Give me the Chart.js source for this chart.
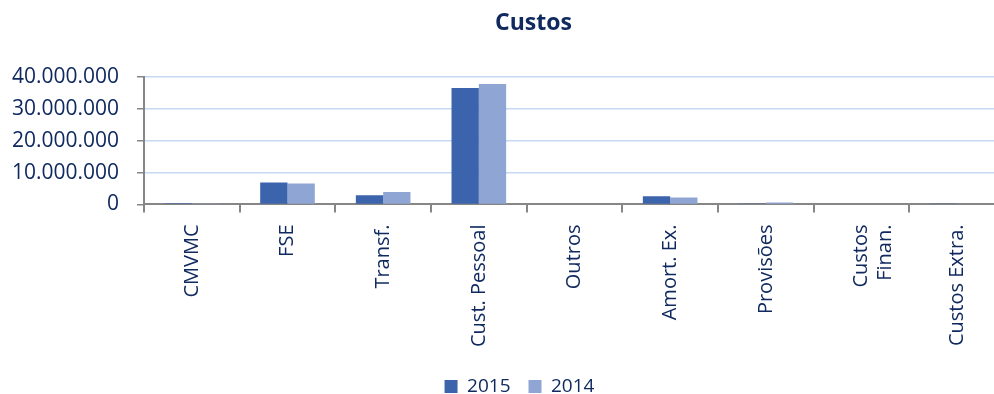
<!DOCTYPE html>
<html>
<head>
<meta charset="utf-8">
<script src="https://cdn.jsdelivr.net/npm/chart.js@4/dist/chart.umd.min.js"></script>
<style>
	html, body { margin: 0; padding: 0; background: #fff; overflow: hidden; }
	#wrap { position: relative; width: 1066px; height: 406px; }
</style>
</head>
<body>
<div id="wrap"><canvas id="custos"></canvas></div>
<script>
	// data
	var categories = ['CMVMC', 'FSE', 'Transf.', 'Cust. Pessoal', 'Outros', 'Amort. Ex.', 'Provisões', ['Custos', 'Finan.'], 'Custos Extra.'];
	var values2015 = [400000, 6900000, 2900000, 36400000, 0, 2600000, 300000, 0, 300000];
	var values2014 = [300000, 6600000, 3900000, 37700000, 0, 2200000, 600000, 0, 0];
	var yTicks = [0, 10000000, 20000000, 30000000, 40000000];

	var navy = '#102a60';
	var axisGrey = '#868686';
	var font = "'Open Sans', 'Noto Sans', sans-serif";

	function fmt(v){
		return String(v).replace(/\B(?=(\d{3})+(?!\d))/g, '.');
	}

	// nudge title and legend sideways, the original centres them on a wider frame
	var shiftBoxes = {
		id: 'shiftBoxes',
		afterLayout: function(chart){
			if(chart.titleBlock){
				chart.titleBlock.left += 26;
				chart.titleBlock.right += 26;
			}
			if(chart.legend){
				chart.legend.left += 12;
				chart.legend.right += 12;
			}
		}
	};

	var ctx = document.getElementById('custos').getContext('2d');
	var chart = new Chart(ctx, {
		type: 'bar',
		data: {
			labels: categories,
			datasets: [{
				label: '2015',
				data: values2015,
				backgroundColor: '#3c64ad'
			}, {
				label: '2014',
				data: values2014,
				backgroundColor: '#8fa5d4'
			}]
		},
		options: {
			responsive: true,
			maintainAspectRatio: false,
			animation: false,
			categoryPercentage: 0.571,
			barPercentage: 1,
			layout: {
				padding: { left: 10, right: 61, top: 0, bottom: 0 }
			},
			plugins: {
				title: {
					display: true,
					text: 'Custos',
					color: navy,
					font: { family: font, size: 23, weight: 'bold' },
					padding: { top: 10, bottom: 39 }
				},
				legend: {
					position: 'bottom',
					labels: {
						color: navy,
						font: { family: font, size: 19 },
						boxWidth: 13,
						boxHeight: 13,
						padding: 18
					}
				},
				tooltip: { enabled: false }
			},
			scales: {
				x: {
					offset: true,
					grid: {
						drawOnChartArea: false,
						offset: true,
						tickLength: 8,
						tickColor: axisGrey,
						lineWidth: 2
					},
					border: { color: axisGrey, width: 2 },
					ticks: {
						color: navy,
						font: { family: font, size: 20 },
						minRotation: 90,
						maxRotation: 90,
						autoSkip: false,
						padding: 12
					},
					afterFit: function(s){ s.height = 154.5; }
				},
				y: {
					min: 0,
					max: 40000000,
					afterBuildTicks: function(s){
						s.ticks = yTicks.map(function(v){ return { value: v }; });
					},
					grid: {
						color: function(c){ return c.tick && c.tick.value === 0 ? 'rgba(0,0,0,0)' : '#c6d9f1'; },
						tickColor: axisGrey,
						tickLength: 7,
						lineWidth: 1.5
					},
					border: { color: axisGrey, width: 2 },
					ticks: {
						color: navy,
						font: { family: font, size: 21 },
						padding: 18,
						callback: function(v){ return fmt(v); }
					},
					afterFit: function(s){ s.width = 134; }
				}
			}
		},
		plugins: [shiftBoxes]
	});
</script>
</body>
</html>
